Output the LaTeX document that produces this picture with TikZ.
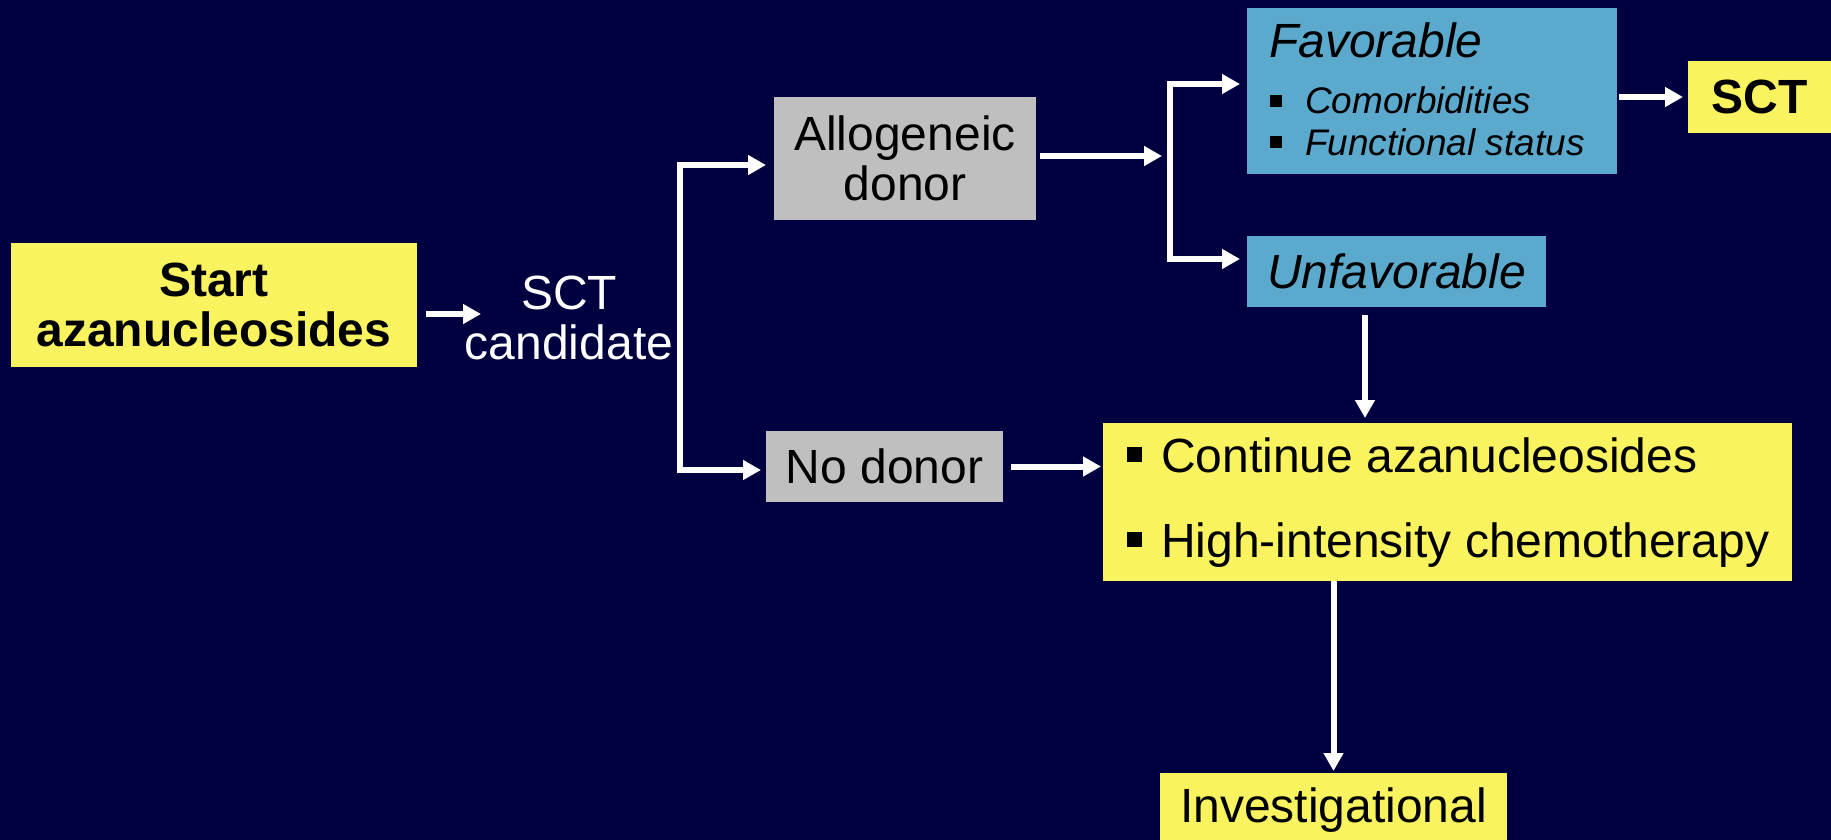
\documentclass[tikz,border=0pt]{standalone}
\usepackage{fontspec}
\setmainfont{Liberation Sans}
\usetikzlibrary{arrows.meta}
\definecolor{bgnavy}{RGB}{0,0,64}
\definecolor{boxyellow}{RGB}{249,243,96}
\definecolor{boxgray}{RGB}{191,191,191}
\definecolor{boxblue}{RGB}{91,169,205}
\newcommand{\bigfnt}{\fontsize{48}{50}\selectfont}
\newcommand{\smallfnt}{\fontsize{37}{42}\selectfont}
\begin{document}
\begin{tikzpicture}[x=1pt,y=-1pt,
  box/.style={rectangle, inner sep=0pt, outer sep=0pt, font=\bigfnt, align=center, text=black},
  ybox/.style={box, fill=boxyellow},
  gbox/.style={box, fill=boxgray},
  bbox/.style={box, fill=boxblue},
  txt/.style={inner sep=0pt, outer sep=0pt, anchor=base west, font=\bigfnt, text=black},
  wline/.style={draw=white, line width=6pt},
  arr/.style={wline, -{Triangle[length=18pt,width=19pt]}},
]
\useasboundingbox (0,0) rectangle (1831,840);
\fill[bgnavy] (0,0) rectangle (1831,840);
\clip (0,0) rectangle (1831,840);

% boxes
\node[ybox, minimum width=406.5pt, minimum height=124pt, font=\bigfnt\bfseries] (start) at (213.75,305) {Start\\azanucleosides};
\node[inner sep=0pt, outer sep=0pt, font=\bigfnt, text=white, align=center] (cand) at (569,318) {SCT\\candidate};
\node[gbox, minimum width=262pt, minimum height=123pt] (allo) at (905,158.5) {Allogeneic\\donor};
\node[gbox, minimum width=237pt, minimum height=71pt] (nodon) at (884.5,466.5) {No donor};
\node[bbox, minimum width=370pt, minimum height=166pt] (fav) at (1432,91) {};
\node[txt, font=\bigfnt\itshape] (favt) at (1269,57.5) {Favorable};
\node[txt, font=\smallfnt\itshape] (fav1) at (1270,114) {\rule[7pt]{11.5pt}{11.5pt}\hspace{23.5pt}Comorbidities};
\node[txt, font=\smallfnt\itshape] (fav2) at (1270,155) {\rule[7pt]{11.5pt}{11.5pt}\hspace{23.5pt}Functional status};
\node[bbox, minimum width=299pt, minimum height=71pt, font=\bigfnt\itshape] (unfav) at (1396.5,271.5) {Unfavorable};
\node[ybox, minimum width=143pt, minimum height=72pt, font=\bigfnt\bfseries] (sct) at (1759.5,97) {SCT};
\node[ybox, minimum width=689pt, minimum height=158pt] (cont) at (1447.5,502) {};
\node[txt] (cont1) at (1127,472) {\rule[10pt]{15pt}{15pt}\hspace{19pt}Continue azanucleosides};
\node[txt] (cont2) at (1127,557) {\rule[10pt]{15pt}{15pt}\hspace{19pt}High-intensity chemotherapy};
\node[ybox, minimum width=347pt, minimum height=74pt] (inv) at (1333.5,810) {Investigational};

% connectors
\coordinate (candin) at (481,314);
\draw[arr, shorten <=9pt] (start.east |- candin) -- (candin);

\coordinate (b1) at (680,317);
\coordinate (b1t) at (680,165);
\coordinate (b1b) at (680,470);
\draw[arr, shorten >=8pt] (b1) |- (allo.west |- b1t);
\draw[arr, shorten >=5pt] (b1) |- (nodon.west |- b1b);

\coordinate (b2) at (1170,156);
\coordinate (b2t) at (1170,84);
\coordinate (b2b) at (1170,259);
\draw[arr, shorten <=4pt, shorten >=8pt] (allo.east |- b2) -- (b2);
\draw[arr, shorten >=7pt] (b2) |- (fav.west |- b2t);
\draw[arr, shorten >=7pt] (b2) |- (unfav.west |- b2b);

\draw[arr, shorten <=2pt, shorten >=5pt] (fav.east |- sct.west) -- (sct.west);

\coordinate (b3) at (1365,0);
\draw[arr, shorten <=8pt, shorten >=5pt] (b3 |- unfav.south) -- (b3 |- cont.north);

\draw[arr, shorten <=8pt, shorten >=2pt] (nodon.east) -- (cont.west |- nodon.east);

\draw[arr, shorten >=2pt] (cont.south -| inv.north) -- (inv.north);
\end{tikzpicture}
\end{document}
